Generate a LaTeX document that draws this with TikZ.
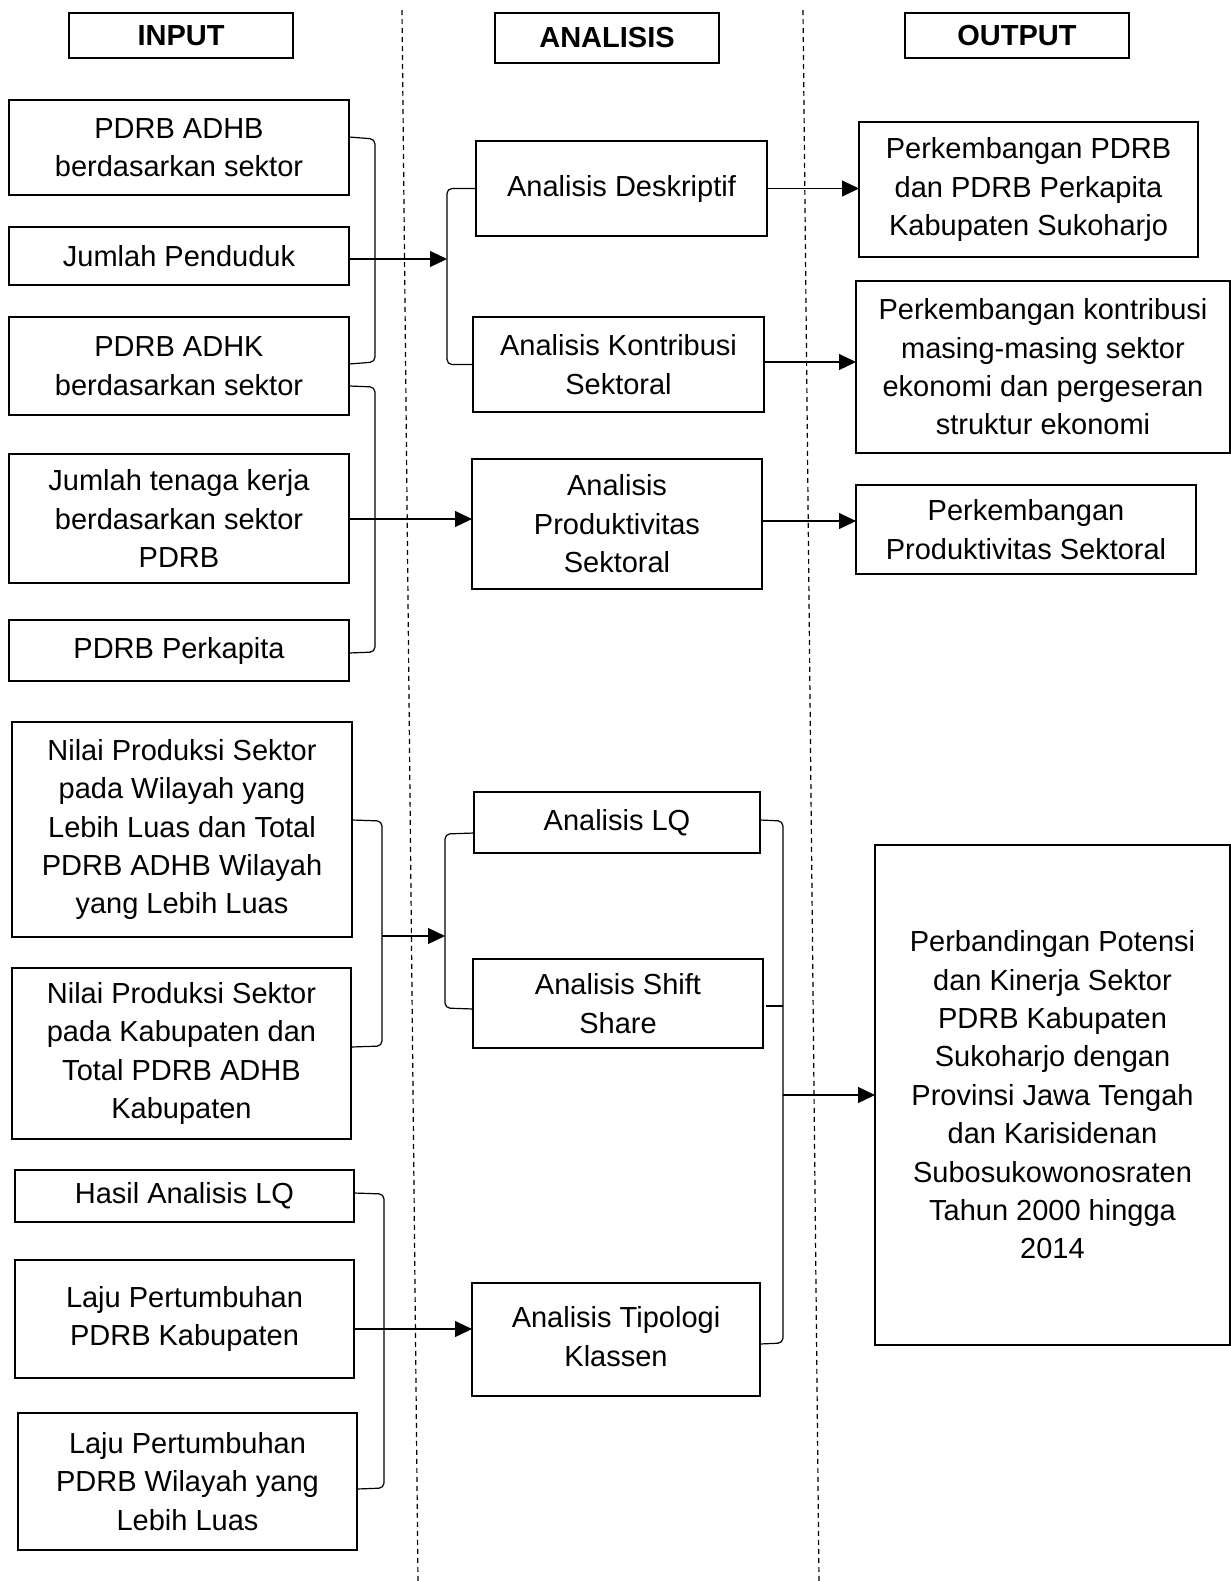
\documentclass[tikz,border=0pt]{standalone}
\usepackage{fontspec}
\setmainfont{Liberation Sans}
\usetikzlibrary{arrows.meta}
\tikzset{
  box/.style={draw, line width=0.75pt, inner sep=0pt, outer sep=0pt, align=center,
    font=\fontsize{14.5}{19.2}\selectfont},
  hbox/.style={box, font=\fontsize{14.5}{19.2}\selectfont\bfseries},
  conn/.style={line width=0.6pt, rounded corners=2.5pt},
  arr/.style={line width=0.6pt, -{Triangle[length=8.5pt,width=8pt]}},
  dashline/.style={line width=0.6pt, dash pattern=on 2.5pt off 2pt}
}
\newcommand{\mybox}[7][box]{\node[#1, minimum width={(#5-#3)*0.5pt}, minimum height={(#6-#4)*0.5pt}] (#2) at ({(#3+#5)/2},{(#4+#6)/2}) {#7};}
\begin{document}
\begin{tikzpicture}[x=0.5pt,y=-0.5pt]
\useasboundingbox (0,0) rectangle (1231,1581);
% dashed separators
\coordinate (d1a) at (402,10); \coordinate (d1b) at (418,1581);
\coordinate (d2a) at (803,10); \coordinate (d2b) at (819,1581);
\draw[dashline] (d1a) -- (d1b);
\draw[dashline] (d2a) -- (d2b);
% headers
\mybox[hbox]{hin}{69}{13}{293}{58}{INPUT}
\mybox[hbox]{han}{495}{13}{719}{63}{ANALISIS}
\mybox[hbox]{hout}{905}{13}{1129}{58}{OUTPUT}
% input boxes
\mybox{B1}{9}{100}{349}{195}{PDRB ADHB\\berdasarkan sektor}
\mybox{B2}{9}{227}{349}{285}{Jumlah Penduduk}
\mybox{B3}{9}{317}{349}{415}{PDRB ADHK\\berdasarkan sektor}
\mybox{B4}{9}{454}{349}{583}{Jumlah tenaga kerja\\berdasarkan sektor\\PDRB}
\mybox{B5}{9}{620}{349}{681}{PDRB Perkapita}
\mybox{B6}{12}{722}{352}{937}{Nilai Produksi Sektor\\pada Wilayah yang\\Lebih Luas dan Total\\PDRB ADHB Wilayah\\yang Lebih Luas}
\mybox{B7}{12}{968}{351}{1139}{Nilai Produksi Sektor\\pada Kabupaten dan\\Total PDRB ADHB\\Kabupaten}
\mybox{B8}{15}{1170}{354}{1222}{Hasil Analisis LQ}
\mybox{B9}{15}{1260}{354}{1378}{Laju Pertumbuhan\\PDRB Kabupaten}
\mybox{B10}{18}{1413}{357}{1550}{Laju Pertumbuhan\\PDRB Wilayah yang\\Lebih Luas}
% analysis boxes
\mybox{M1}{476}{141}{767}{236}{Analisis Deskriptif}
\mybox{M2}{473}{317}{764}{412}{Analisis Kontribusi\\Sektoral}
\mybox{M3}{472}{459}{762}{589}{Analisis\\Produktivitas\\Sektoral}
\mybox{M4}{474}{792}{760}{853}{Analisis LQ}
\mybox{M5}{473}{959}{763}{1048}{Analisis Shift\\Share}
\mybox{M6}{472}{1283}{760}{1396}{\raisebox{4pt}{\begin{tabular}{@{}c@{}}Analisis Tipologi\\Klassen\end{tabular}}}
% output boxes
\mybox{R1}{859}{122}{1198}{257}{Perkembangan PDRB\\dan PDRB Perkapita\\Kabupaten Sukoharjo}
\mybox{R2}{856}{281}{1230}{453}{Perkembangan kontribusi\\masing-masing sektor\\ekonomi dan pergeseran\\struktur ekonomi}
\mybox{R3}{856}{485}{1196}{574}{Perkembangan\\Produktivitas Sektoral}
\mybox{R4}{875}{845}{1230}{1345}{Perbandingan Potensi\\dan Kinerja Sektor\\PDRB Kabupaten\\Sukoharjo dengan\\Provinsi Jawa Tengah\\dan Karisidenan\\Subosukowonosraten\\Tahun 2000 hingga\\2014}
% bracket x positions
\coordinate (k1) at (375,0);
\coordinate (k3) at (382,0);
\coordinate (k4) at (384,0);
\coordinate (mk1) at (447,0);
\coordinate (mk3) at (445,0);
\coordinate (rk) at (783,0);
% group 1
\draw[conn] (B1.east |- 0,137) -- (k1 |- 0,139) -- (k1 |- 0,362) -- (B3.east |- 0,364);
\draw[arr] (B2.east |- 0,259) -- (mk1 |- 0,259);
\draw[conn] (M1.west) -- (mk1 |- M1.west) -- (mk1 |- M2.west) -- (M2.west);
% group 2
\draw[conn] (B3.east |- 0,386) -- (k1 |- 0,387) -- (k1 |- 0,652) -- (B5.east |- 0,653);
\draw[arr] (B4.east |- 0,519) -- (M3.west |- 0,519);
% output arrows
\draw[arr] (M1.east) -- (M1.east -| R1.west);
\draw[arr] (M2.east |- 0,362) -- (R2.west |- 0,362);
\draw[arr] (M3.east |- 0,521) -- (R3.west |- 0,521);
% group 3
\draw[conn] (B6.east |- 0,820) -- (k3 |- 0,821) -- (k3 |- 0,1046) -- (B7.east |- 0,1047);
\draw[arr] (k3 |- 0,936) -- (mk3 |- 0,936);
\draw[conn] (M4.west |- 0,833) -- (mk3 |- 0,834) -- (mk3 |- 0,1008) -- (M5.west |- 0,1009);
% group 4
\draw[conn] (B8.east |- 0,1193) -- (k4 |- 0,1194) -- (k4 |- 0,1488) -- (B10.east |- 0,1489);
\draw[arr] (B9.east |- 0,1329) -- (M6.west |- 0,1329);
% right bracket
\draw[conn] (M4.east |- 0,820) -- (rk |- 0,821) -- (rk |- 0,1343) -- (M6.east |- 0,1344);
\coordinate (t5) at (766,1006);
\draw[line width=0.6pt] (t5) -- (rk |- t5);
\draw[arr] (rk |- R4.west) -- (R4.west);
\end{tikzpicture}
\end{document}
